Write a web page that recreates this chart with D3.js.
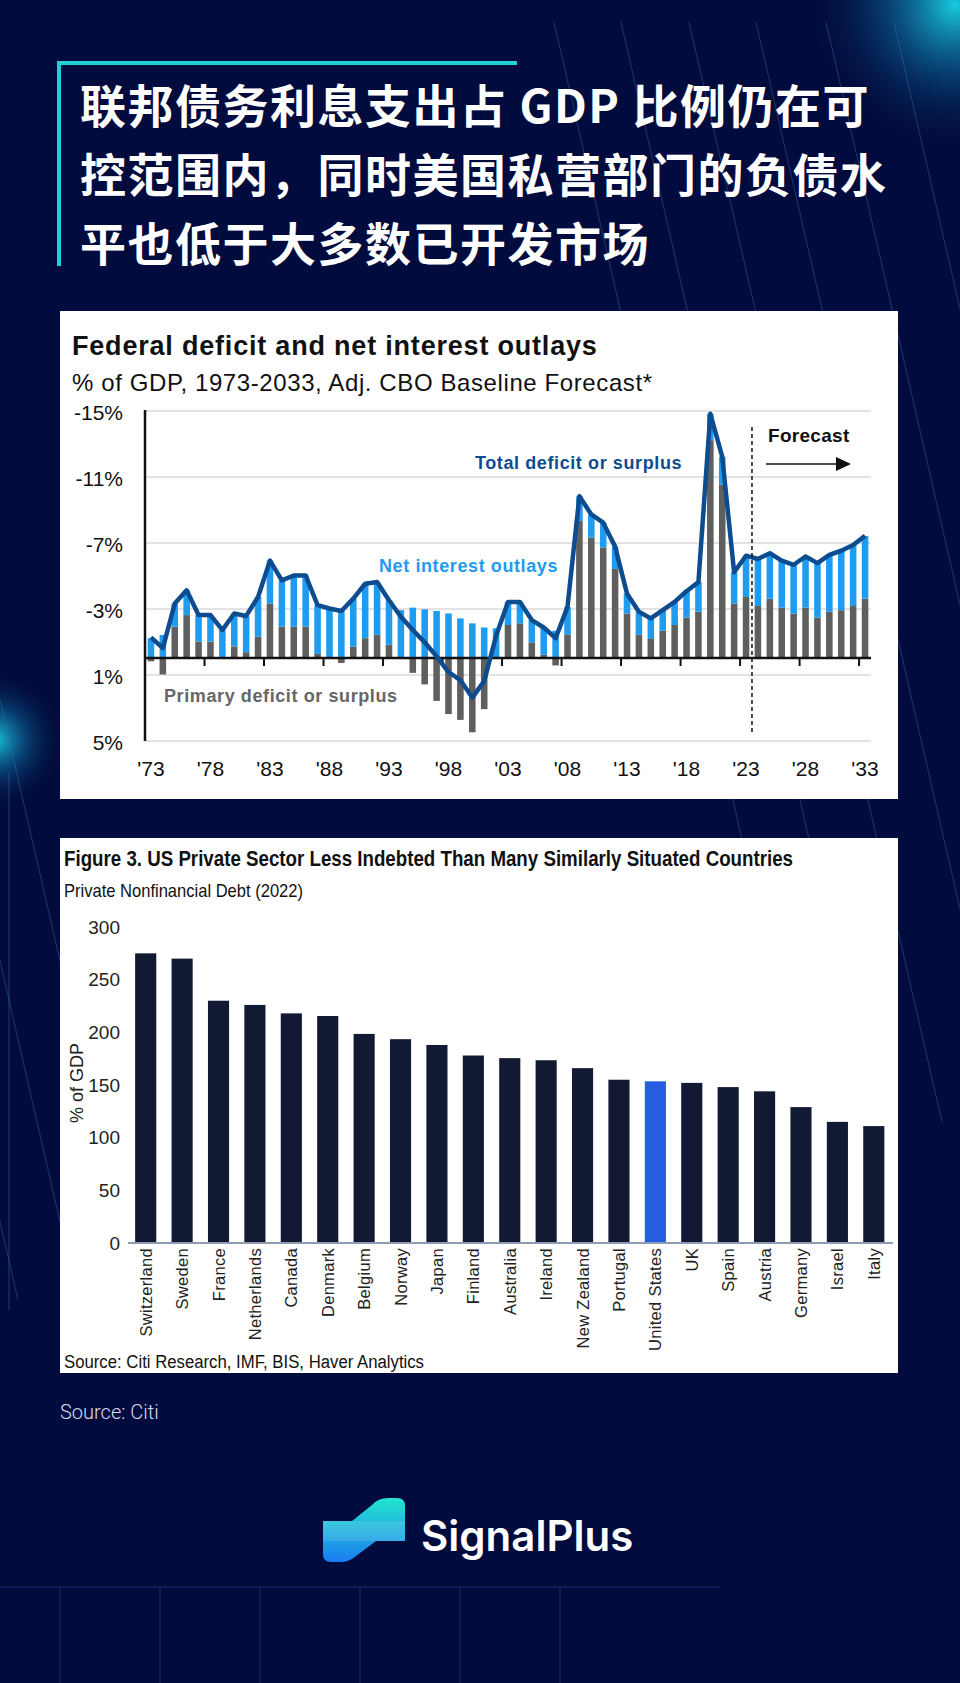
<!DOCTYPE html>
<html>
<head>
<meta charset="utf-8">
<script src="https://cdn.jsdelivr.net/npm/d3@7"></script>
<style>
  body { margin: 0; background: #020b3d; }
  svg { display: block; }
</style>
</head>
<body>
<div id="page"></div>
<script>
// ---- chart 1 data: federal deficit, % of GDP (deficit as positive number) ----
const years = d3.range(1973, 2034);
const primaryDeficit = [
  -0.2, -1.0, 1.9, 2.6, 1.0, 1.0, 0.05, 0.7, 0.35, 1.3,
  3.3, 1.9, 1.9, 1.9, 0.25, 0.0, -0.3, 0.7, 1.2, 1.4,
  0.8, 0.0, -0.9, -1.6, -2.6, -3.4, -3.75, -4.5, -3.1, 0.0,
  2.0, 2.1, 0.95, 0.2, -0.45, 1.4, 8.3, 7.3, 6.7, 5.4,
  2.7, 1.4, 1.15, 1.65, 2.0, 2.45, 2.8, 13.2, 10.5, 3.3,
  3.7, 3.15, 3.6, 3.05, 2.7, 3.05, 2.45, 2.8, 2.9, 3.15, 3.6
];
const netInterest = [
  1.2, 1.4, 1.4, 1.5, 1.6, 1.6, 1.65, 2.0, 2.2, 2.4,
  2.6, 2.8, 3.1, 3.1, 2.95, 3.0, 2.9, 2.9, 3.3, 3.2,
  2.7, 2.9, 3.05, 2.95, 2.85, 2.7, 2.4, 2.1, 1.85, 1.8,
  1.4, 1.3, 1.35, 1.65, 1.65, 1.7, 1.5, 1.4, 1.5, 1.35,
  1.2, 1.4, 1.25, 1.25, 1.4, 1.65, 1.8, 1.6, 1.7, 1.9,
  2.5, 2.85, 2.75, 2.85, 2.95, 3.1, 3.3, 3.45, 3.6, 3.7, 3.8
];
const totalDeficit = [
  1.25, 0.6, 3.3, 4.1, 2.6, 2.6, 1.7, 2.7, 2.55, 3.7,
  5.9, 4.7, 5.0, 5.0, 3.2, 3.0, 2.85, 3.6, 4.5, 4.6,
  3.5, 2.5, 1.7, 0.95, 0.1, -0.85, -1.35, -2.4, -1.4, 1.35,
  3.4, 3.4, 2.3, 1.85, 1.2, 3.1, 9.8, 8.7, 8.2, 6.75,
  3.9, 2.8, 2.4, 2.9, 3.4, 4.05, 4.6, 14.8, 12.2, 5.2,
  6.2, 6.0, 6.35, 5.9, 5.65, 6.15, 5.75, 6.25, 6.5, 6.85, 7.4
];
const yearTicks = [1973, 1978, 1983, 1988, 1993, 1998, 2003, 2008, 2013, 2018, 2023, 2028, 2033];
const deficitTicks = [-5, -1, 3, 7, 11, 15];
const forecastStart = 2024;

// ---- chart 2 data: private nonfinancial debt 2022, % of GDP ----
const countries = ['Switzerland', 'Sweden', 'France', 'Netherlands', 'Canada', 'Denmark',
  'Belgium', 'Norway', 'Japan', 'Finland', 'Australia', 'Ireland', 'New Zealand',
  'Portugal', 'United States', 'UK', 'Spain', 'Austria', 'Germany', 'Israel', 'Italy'];
const privateDebt = [275, 270, 230, 226, 218, 215.5, 198.5, 193.5, 188, 178, 175.5,
  173.5, 166, 155, 153.5, 152, 148, 144, 129, 115, 111];
const debtTicks = [0, 50, 100, 150, 200, 250, 300];

const W = 960, H = 1683;
const svg = d3.select('#page').append('svg')
  .attr('width', W)
  .attr('height', H);

const defs = svg.append('defs');
const glow = defs.append('radialGradient').attr('id', 'glow');
glow.append('stop').attr('offset', '0%').attr('stop-color', '#19d3e6').attr('stop-opacity', 0.95);
glow.append('stop').attr('offset', '45%').attr('stop-color', '#0e7fb0').attr('stop-opacity', 0.45);
glow.append('stop').attr('offset', '100%').attr('stop-color', '#020b3d').attr('stop-opacity', 0);
const logoGrad = defs.append('linearGradient').attr('id', 'logoGrad')
  .attr('x1', 0).attr('y1', 0).attr('x2', 0).attr('y2', 1);
logoGrad.append('stop').attr('offset', '0%').attr('stop-color', '#22e6cf');
logoGrad.append('stop').attr('offset', '100%').attr('stop-color', '#1b7cf2');

// background
svg.append('rect').attr('width', W).attr('height', H).attr('fill', '#020b3d');
svg.append('circle').attr('cx', 955).attr('cy', 5).attr('r', 150).attr('fill', 'url(#glow)');
svg.append('circle').attr('cx', -5).attr('cy', 740).attr('r', 70).attr('fill', 'url(#glow)');

// decorative diagonal lines
const deco = svg.append('g').attr('stroke', '#3f6fa8').attr('stroke-opacity', 0.45).attr('stroke-width', 1);
[554, 621, 689, 756, 826, 894].forEach(x0 => {
  deco.append('line').attr('x1', x0).attr('y1', 22).attr('x2', x0 + 0.23 * 1100).attr('y2', 1122);
});
[-120, -60, 0].forEach(x0 => {
  deco.append('line').attr('x1', x0).attr('y1', 700).attr('x2', x0 + 0.23 * 600).attr('y2', 1300);
});
deco.append('line').attr('x1', 9).attr('y1', 773).attr('x2', 9).attr('y2', 1310);

// bottom grid
const grid = svg.append('g').attr('stroke', '#1b2a66').attr('stroke-width', 1.2);
grid.append('line').attr('x1', 0).attr('y1', 1587).attr('x2', 721).attr('y2', 1587);
[60, 160, 260, 360, 460, 560].forEach(x => {
  grid.append('line').attr('x1', x).attr('y1', 1587).attr('x2', x).attr('y2', H);
});

// heading
svg.append('path')
  .attr('d', 'M59,266 L59,63 L517,63')
  .attr('fill', 'none')
  .attr('stroke', '#22cfd6')
  .attr('stroke-width', 4);
const headLines = ['联邦债务利息支出占 GDP 比例仍在可', '控范围内，同时美国私营部门的负债水', '平也低于大多数已开发市场'];
svg.append('g').selectAll('text')
  .data(headLines)
  .join('text')
  .attr('x', 80)
  .attr('y', (d, i) => 123 + i * 69)
  .attr('fill', '#ffffff')
  .style('font-family', '"Noto Sans CJK SC", sans-serif')
  .style('font-weight', 700)
  .style('font-size', '46px')
  .style('letter-spacing', '1.5px')
  .text(d => d);

// ================= chart 1 =================
svg.append('rect').attr('x', 60).attr('y', 311).attr('width', 838).attr('height', 488).attr('fill', '#ffffff');
const c1 = svg.append('g');
c1.append('text').attr('x', 72).attr('y', 355)
  .style('font-family', '"Liberation Sans", Arial, sans-serif')
  .style('font-weight', 700).style('font-size', '27px').style('letter-spacing', '0.8px')
  .attr('fill', '#111')
  .text('Federal deficit and net interest outlays');
c1.append('text').attr('x', 72).attr('y', 391)
  .style('font-family', '"Liberation Sans", Arial, sans-serif')
  .style('font-size', '24px').style('letter-spacing', '0.6px')
  .attr('fill', '#111')
  .text('% of GDP, 1973-2033, Adj. CBO Baseline Forecast*');

const x1 = d3.scaleBand().domain(years).range([145, 871]).paddingInner(0.45).paddingOuter(0.225);
const y1 = d3.scaleLinear().domain([-5, 15]).range([740.5, 410.5]);
const bw1 = x1.bandwidth();

const yAxis1 = d3.axisLeft(y1)
  .tickValues(deficitTicks)
  .tickSize(-(871 - 145))
  .tickPadding(22)
  .tickFormat(d => `${-d}%`);
const yAxis1Draw = c1.append('g')
  .attr('transform', 'translate(145,0)')
  .call(yAxis1);
yAxis1Draw.select('.domain').remove();
yAxis1Draw.selectAll('.tick line').attr('stroke', '#d9d9d9').attr('stroke-width', 1.3);
yAxis1Draw.selectAll('.tick text')
  .attr('fill', '#111')
  .attr('dy', '0.45em')
  .style('font-family', '"Liberation Sans", Arial, sans-serif')
  .style('font-size', '21px');

const rows = years.map((yr, i) => ({
  year: yr, primary: primaryDeficit[i], interest: netInterest[i], total: totalDeficit[i]
}));

// primary deficit bars (gray)
c1.selectAll('.bar-primary')
  .data(rows)
  .join('rect')
  .attr('class', 'bar-primary')
  .attr('x', d => x1(d.year))
  .attr('width', bw1)
  .attr('y', d => y1(Math.max(d.primary, 0)))
  .attr('height', d => Math.abs(y1(d.primary) - y1(0)))
  .attr('fill', '#5f5f5f');

// net interest bars (blue) stacked on positive primary
c1.selectAll('.bar-interest')
  .data(rows)
  .join('rect')
  .attr('class', 'bar-interest')
  .attr('x', d => x1(d.year))
  .attr('width', bw1)
  .attr('y', d => y1(Math.max(d.primary, 0) + d.interest))
  .attr('height', d => y1(0) - y1(d.interest))
  .attr('fill', '#1f9bf0');

// axes lines
c1.append('line').attr('x1', 145).attr('x2', 145).attr('y1', 410).attr('y2', 741)
  .attr('stroke', '#111').attr('stroke-width', 2.5);
c1.append('line').attr('x1', 144).attr('x2', 871).attr('y1', y1(0)).attr('y2', y1(0))
  .attr('stroke', '#111').attr('stroke-width', 2.5);
c1.selectAll('.xtick')
  .data(yearTicks.slice(1))
  .join('line')
  .attr('class', 'xtick')
  .attr('x1', d => x1(d) - x1.step() * 0.225)
  .attr('x2', d => x1(d) - x1.step() * 0.225)
  .attr('y1', y1(0))
  .attr('y2', y1(0) + 8)
  .attr('stroke', '#111')
  .attr('stroke-width', 2);
c1.selectAll('.xlabel')
  .data(yearTicks)
  .join('text')
  .attr('class', 'xlabel')
  .attr('x', d => x1(d) + bw1 / 2)
  .attr('y', 776)
  .attr('text-anchor', 'middle')
  .attr('fill', '#111')
  .style('font-family', '"Liberation Sans", Arial, sans-serif')
  .style('font-size', '21px')
  .text(d => `'${String(d).slice(2)}`);

// total deficit line
const line1 = d3.line()
  .x(d => x1(d.year) + bw1 / 2)
  .y(d => y1(d.total));
c1.append('path')
  .datum(rows)
  .attr('d', line1)
  .attr('fill', 'none')
  .attr('stroke', '#0d4c8f')
  .attr('stroke-width', 4.5)
  .attr('stroke-linejoin', 'round');

// forecast marker
const fx = x1(forecastStart) - x1.step() * 0.225;
c1.append('line').attr('x1', fx).attr('x2', fx).attr('y1', 427).attr('y2', 732)
  .attr('stroke', '#111').attr('stroke-width', 1.5).attr('stroke-dasharray', '4,3');
c1.append('text').attr('x', 768).attr('y', 442)
  .style('font-family', '"Liberation Sans", Arial, sans-serif')
  .style('font-weight', 700).style('font-size', '19px').style('letter-spacing', '0.3px')
  .attr('fill', '#111').text('Forecast');
c1.append('line').attr('x1', 766).attr('x2', 838).attr('y1', 464).attr('y2', 464)
  .attr('stroke', '#111').attr('stroke-width', 1.5);
c1.append('path').attr('d', 'M836,457 L851,464 L836,471 Z').attr('fill', '#111');

// series labels
const lab = (x, y, txt, col) => c1.append('text').attr('x', x).attr('y', y)
  .style('font-family', '"Liberation Sans", Arial, sans-serif')
  .style('font-weight', 700).style('font-size', '18px').style('letter-spacing', '0.6px')
  .attr('fill', col).text(txt);
lab(475, 469, 'Total  deficit or surplus', '#0d4c8f');
lab(379, 572, 'Net interest outlays', '#1f9bf0');
lab(164, 702, 'Primary deficit or surplus', '#666666');

// ================= chart 2 =================
svg.append('rect').attr('x', 60).attr('y', 838).attr('width', 838).attr('height', 535).attr('fill', '#ffffff');
const c2 = svg.append('g');
const narrowText = (x, y, size, weight, len, txt) => c2.append('text')
  .attr('x', x).attr('y', y)
  .attr('textLength', len).attr('lengthAdjust', 'spacingAndGlyphs')
  .style('font-family', '"Liberation Sans", Arial, sans-serif')
  .style('font-weight', weight).style('font-size', size)
  .attr('fill', '#111')
  .text(txt);
narrowText(64, 866, '22px', 700, 729, 'Figure 3. US Private Sector Less Indebted Than Many Similarly Situated Countries');
narrowText(64, 897, '19px', 400, 239, 'Private Nonfinancial Debt (2022)');
narrowText(64, 1368, '18px', 400, 360, 'Source: Citi Research, IMF, BIS, Haver Analytics');

const x2 = d3.scaleBand().domain(countries).range([127.5, 892]).paddingInner(0.42).paddingOuter(0.21);
const y2 = d3.scaleLinear().domain([0, 300]).range([1243, 927]);

c2.selectAll('.bar')
  .data(countries)
  .join('rect')
  .attr('class', 'bar')
  .attr('x', d => x2(d))
  .attr('width', x2.bandwidth())
  .attr('y', (d, i) => y2(privateDebt[i]))
  .attr('height', (d, i) => y2(0) - y2(privateDebt[i]))
  .attr('fill', d => d === 'United States' ? '#255ee0' : '#121933');

c2.append('line').attr('x1', 128).attr('x2', 893).attr('y1', y2(0)).attr('y2', y2(0))
  .attr('stroke', '#8e9bb4').attr('stroke-width', 2);

const yAxis2Draw = c2.append('g')
  .attr('transform', 'translate(128,0)')
  .call(d3.axisLeft(y2).tickValues(debtTicks).tickSize(0).tickPadding(8));
yAxis2Draw.select('.domain').remove();
yAxis2Draw.selectAll('text')
  .attr('fill', '#222')
  .style('font-family', '"Liberation Sans", Arial, sans-serif')
  .style('font-size', '19px');

c2.append('text')
  .attr('transform', 'translate(83,1083) rotate(-90)')
  .attr('text-anchor', 'middle')
  .attr('fill', '#222')
  .style('font-family', '"Liberation Sans", Arial, sans-serif')
  .style('font-size', '18px')
  .text('% of GDP');

c2.selectAll('.clabel')
  .data(countries)
  .join('text')
  .attr('class', 'clabel')
  .attr('transform', d => `translate(${x2(d) + x2.bandwidth() / 2 + 6},1248) rotate(-90)`)
  .attr('text-anchor', 'end')
  .attr('fill', '#222')
  .style('font-family', '"Liberation Sans", Arial, sans-serif')
  .style('font-size', '16.5px')
  .style('letter-spacing', '0.3px')
  .text(d => d);

// ================= footer =================
svg.append('text').attr('x', 60).attr('y', 1419)
  .style('font-family', 'Roboto, sans-serif').style('font-weight', 300).style('font-size', '20px')
  .attr('fill', '#d6dcf0')
  .text('Source: Citi');

const logo = svg.append('g');
logo.append('path')
  .attr('d', 'M323,1521 L352,1521 L372,1505 Q378,1498 388,1498 L397,1498 Q405,1498 405,1506 L405,1541 L376,1541 L356,1556 Q349,1562 341,1562 L331,1562 Q323,1562 323,1554 Z')
  .attr('fill', 'url(#logoGrad)');
logo.append('rect').attr('x', 323).attr('y', 1521).attr('width', 82).attr('height', 20)
  .attr('fill', '#ffffff').attr('fill-opacity', 0.12);
logo.append('text').attr('x', 421).attr('y', 1551)
  .style('font-family', 'Inter, "Noto Sans", sans-serif').style('font-weight', 600).style('font-size', '42px')
  .attr('fill', '#ffffff')
  .text('SignalPlus');
</script>
</body>
</html>
